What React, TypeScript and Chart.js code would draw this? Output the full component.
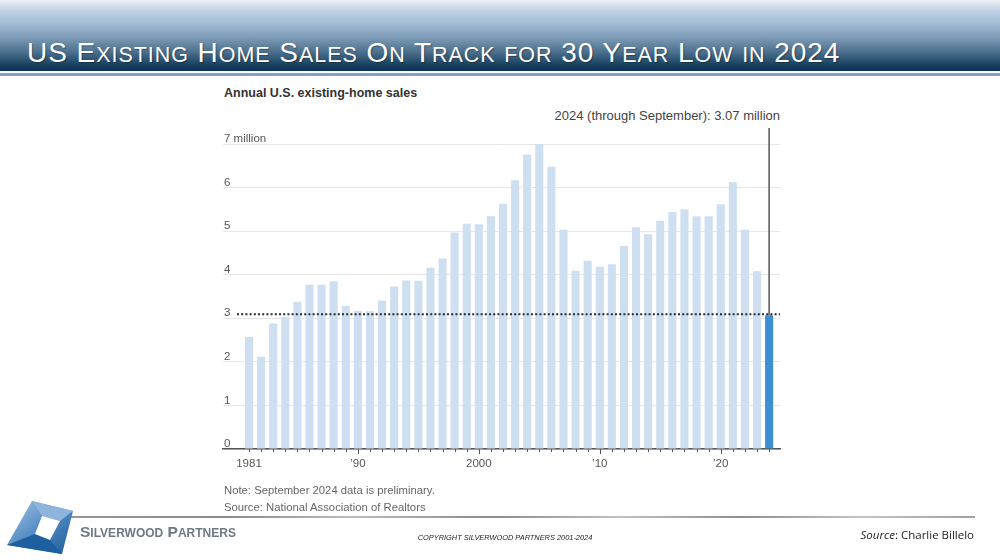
import React, { useEffect, useRef } from "react";
import { Chart, registerables } from "chart.js";

Chart.register(...registerables);

// ---- data ----
const years: number[] = [
  1981, 1982, 1983, 1984, 1985, 1986, 1987, 1988, 1989, 1990,
  1991, 1992, 1993, 1994, 1995, 1996, 1997, 1998, 1999, 2000,
  2001, 2002, 2003, 2004, 2005, 2006, 2007, 2008, 2009, 2010,
  2011, 2012, 2013, 2014, 2015, 2016, 2017, 2018, 2019, 2020,
  2021, 2022, 2023, 2024,
];
const sales: number[] = [
  2.57, 2.12, 2.88, 3.03, 3.38, 3.77, 3.77, 3.85, 3.28, 3.17,
  3.16, 3.41, 3.73, 3.87, 3.86, 4.16, 4.37, 4.97, 5.17, 5.16,
  5.34, 5.63, 6.17, 6.76, 7.07, 6.48, 5.03, 4.09, 4.32, 4.18,
  4.24, 4.66, 5.09, 4.93, 5.23, 5.44, 5.5, 5.34, 5.34, 5.62,
  6.12, 5.03, 4.08, 3.07,
];
const xTickYears: number[] = [1981, 1990, 2000, 2010, 2020];
const xTickText: string[] = ["1981", "\u201990", "2000", "\u201910", "\u201920"];
const yTickValues: number[] = [0, 1, 2, 3, 4, 5, 6, 7];
const yTickText: string[] = ["0", "1", "2", "3", "4", "5", "6", "7 million"];
const chartTitle = "Annual U.S. existing-home sales";
const annotationText = "2024 (through September): 3.07 million";
const noteLines: string[] = [
  "Note: September 2024 data is preliminary.",
  "Source: National Association of Realtors",
];

const LIGHT = "#cddff1";
const DARK = "#3d8fd4";
const SANS = "'Liberation Sans', Arial, sans-serif";

const overlayPlugin = {
  id: "overlay",
  afterDatasetsDraw(chart: any) {
    const { ctx, chartArea, scales } = chart;
    const xs = scales.x;
    const ys = scales.y;
    const lastIdx = sales.length - 1;
    const yLast = ys.getPixelForValue(sales[lastIdx]);
    const xLast = xs.getPixelForValue(years[lastIdx]);
    ctx.save();
    // dotted reference line at latest value
    ctx.strokeStyle = "#2b2b2b";
    ctx.lineWidth = 2;
    ctx.setLineDash([2, 2.2]);
    ctx.beginPath();
    ctx.moveTo(xs.getPixelForValue(years[0]) - 12, yLast - 1);
    ctx.lineTo(chartArea.right, yLast - 1);
    ctx.stroke();
    ctx.setLineDash([]);
    // vertical marker line
    ctx.strokeStyle = "#555";
    ctx.lineWidth = 1.5;
    ctx.beginPath();
    ctx.moveTo(xLast, chartArea.top - 16);
    ctx.lineTo(xLast, yLast);
    ctx.stroke();
    // tick marks on the axis
    ctx.strokeStyle = "#555";
    ctx.lineWidth = 1;
    years.forEach((yr) => {
      const px = Math.round(xs.getPixelForValue(yr)) + 0.5;
      const len = yr % 10 === 0 ? 5 : 3;
      ctx.beginPath();
      ctx.moveTo(px, chartArea.bottom);
      ctx.lineTo(px, chartArea.bottom + len);
      ctx.stroke();
    });
    ctx.restore();
  },
};

function BarChart() {
  const ref = useRef<HTMLCanvasElement | null>(null);
  useEffect(() => {
    if (!ref.current) return;
    const chart = new Chart(ref.current, {
      type: "bar",
      data: {
        datasets: [
          {
            data: years.map((yr, i) => ({ x: yr, y: sales[i] })),
            backgroundColor: years.map((_, i) => (i === years.length - 1 ? DARK : LIGHT)),
            borderWidth: 0,
            barPercentage: 0.67,
            categoryPercentage: 1,
          },
        ],
      },
      options: {
        animation: false,
        responsive: false,
        devicePixelRatio: 1,
        layout: { padding: { left: 223, right: 220, top: 144, bottom: 88 } },
        plugins: { legend: { display: false }, tooltip: { enabled: false }, title: { display: false } },
        scales: {
          x: {
            type: "linear",
            offset: false,
            min: 1978.85,
            max: 2024.9,
            grid: { display: false, drawTicks: false, offset: false },
            border: { display: true, color: "#555", width: 1.5 },
            afterBuildTicks: (s: any) => {
              s.ticks = xTickYears.map((v) => ({ value: v }));
            },
            afterFit: (s: any) => {
              s.height = 23;
            },
            ticks: {
              autoSkip: false,
              maxRotation: 0,
              padding: 8,
              color: "#555",
              font: { family: SANS, size: 11.5 },
              callback: (v: any) => {
                const i = xTickYears.indexOf(Number(v));
                return i >= 0 ? xTickText[i] : "";
              },
            },
          },
          y: {
            min: 0,
            max: 7,
            grid: { color: "#e7e7e7", lineWidth: 1, drawTicks: false },
            border: { display: false },
            afterBuildTicks: (s: any) => {
              s.ticks = yTickValues.map((v) => ({ value: v }));
            },
            afterFit: (s: any) => {
              s.width = 0;
            },
            ticks: {
              mirror: true,
              padding: 1,
              labelOffset: -5,
              color: "#555",
              font: { family: SANS, size: 11.5 },
              callback: (v: any) => {
                const i = yTickValues.indexOf(Number(v));
                return i >= 0 ? yTickText[i] : "";
              },
            },
          },
        },
      },
      plugins: [overlayPlugin],
    } as any);
    return () => chart.destroy();
  }, []);
  return (
    <canvas
      ref={ref}
      width={1000}
      height={560}
      style={{ position: "absolute", left: 0, top: 0, width: 1000, height: 560 }}
    />
  );
}

function SmallCaps({ text, big, small }: { text: string; big: number; small: number }) {
  const words = text.split(" ");
  return (
    <>
      {words.map((w, wi) => {
        const isCap = w[0] === w[0].toUpperCase();
        const allBig = w === w.toUpperCase() && /[A-Z0-9]/.test(w);
        return (
          <React.Fragment key={wi}>
            {wi > 0 ? " " : ""}
            {allBig ? (
              <span style={{ fontSize: big }}>{w}</span>
            ) : isCap ? (
              <>
                <span style={{ fontSize: big }}>{w[0]}</span>
                <span style={{ fontSize: small }}>{w.slice(1).toUpperCase()}</span>
              </>
            ) : (
              <span style={{ fontSize: small }}>{w.toUpperCase()}</span>
            )}
          </React.Fragment>
        );
      })}
    </>
  );
}

export default function App() {
  return (
    <div
      style={{
        position: "absolute",
        left: 0,
        top: 0,
        width: 1000,
        height: 560,
        background: "#ffffff",
        overflow: "hidden",
        fontFamily: SANS,
      }}
    >
      {/* header bar */}
      <div
        style={{
          position: "absolute",
          left: 0,
          top: 0,
          width: 1000,
          height: 71,
          background:
            "linear-gradient(to bottom, #eef2f7 0%, #c3d3e5 14%, #a4bcd6 32%, #7f9db9 52%, #4a6e8c 74%, #163f5e 92%, #0c3350 100%)",
        }}
      />
      <div style={{ position: "absolute", left: 0, top: 72.5, width: 1000, height: 3.5, background: "#7fa3c9" }} />
      <div
        style={{
          position: "absolute",
          left: 27,
          top: 39,
          lineHeight: "28px",
          fontSize: 28,
          letterSpacing: "0.95px",
          color: "#ffffff",
          whiteSpace: "nowrap",
          textShadow: "1px 1px 1px rgba(0,0,0,0.35)",
        }}
      >
        <SmallCaps text="US Existing Home Sales On Track for 30 Year Low in 2024" big={28} small={21.5} />
      </div>

      {/* chart title & annotation */}
      <div
        style={{
          position: "absolute",
          left: 224,
          top: 86,
          fontSize: 12.5,
          fontWeight: "bold",
          color: "#333",
          whiteSpace: "nowrap",
        }}
      >
        {chartTitle}
      </div>
      <div
        style={{
          position: "absolute",
          right: 1000 - 780,
          top: 108,
          fontSize: 13,
          color: "#444",
          whiteSpace: "nowrap",
        }}
      >
        {annotationText}
      </div>

      <BarChart />

      {/* notes */}
      {noteLines.map((t, i) => (
        <div
          key={i}
          style={{
            position: "absolute",
            left: 224,
            top: 482 + i * 17,
            fontSize: 11.3,
            lineHeight: "16px",
            color: "#666",
            whiteSpace: "nowrap",
          }}
        >
          {t}
        </div>
      ))}

      {/* footer line */}
      <div
        style={{
          position: "absolute",
          left: 42,
          top: 516,
          width: 933,
          height: 1.5,
          background:
            "linear-gradient(to right, #9a9a9a 0%, #8a8a8a 20%, #bdbdbd 33%, #8c8c8c 48%, #c0c0c0 62%, #8f8f8f 75%, #c4c4c4 88%, #a0a0a0 100%)",
        }}
      />

      {/* logo */}
      <svg width={80} height={62} style={{ position: "absolute", left: 0, top: 496 }}>
        <defs>
          <linearGradient id="lg1" x1="0" y1="0" x2="1" y2="1">
            <stop offset="0%" stopColor="#a9c6e6" />
            <stop offset="55%" stopColor="#4b86c0" />
            <stop offset="100%" stopColor="#1c5b98" />
          </linearGradient>
        </defs>
        <polygon points="32,5 73,15 62,58 7,49" fill="url(#lg1)" />
        <polygon points="32,5 73,15 60,25 42,20" fill="#8fb4dc" />
        <polygon points="7,49 35,38 50,44 62,58" fill="#1d5f9f" />
        <polygon points="42,20 60,25 50,44 35,38" fill="#ffffff" />
      </svg>
      <div
        style={{
          position: "absolute",
          left: 80,
          top: 523,
          lineHeight: "18px",
          fontSize: 15.5,
          fontWeight: "bold",
          color: "#6d7985",
          whiteSpace: "nowrap",
        }}
      >
        <SmallCaps text="Silverwood Partners" big={15.5} small={12} />
      </div>
      <div
        style={{
          position: "absolute",
          left: 505,
          top: 533,
          transform: "translateX(-50%)",
          fontStyle: "italic",
          fontSize: 7.4,
          color: "#222",
          whiteSpace: "nowrap",
        }}
      >
        COPYRIGHT SILVERWOOD PARTNERS 2001-2024
      </div>
      <div
        style={{
          position: "absolute",
          right: 1000 - 974,
          top: 527,
          fontSize: 11.5,
          color: "#222",
          whiteSpace: "nowrap",
          fontFamily: "'Open Sans', 'Liberation Sans', sans-serif",
        }}
      >
        <i>Source</i>: Charlie Billelo
      </div>
    </div>
  );
}
